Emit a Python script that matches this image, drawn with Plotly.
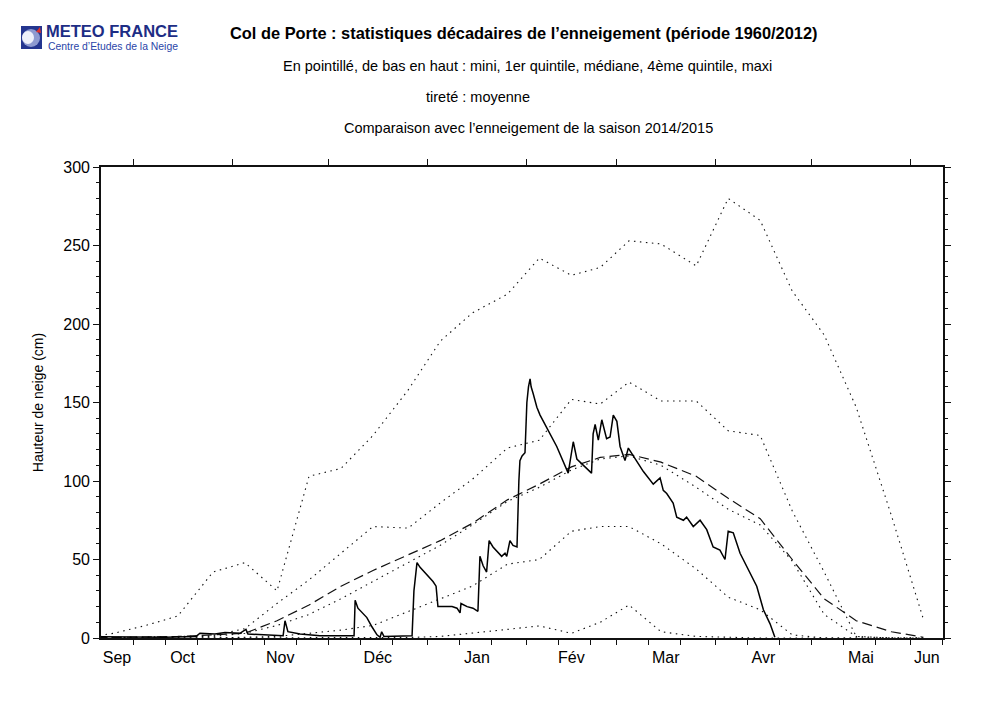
import plotly.graph_objects as go
import pandas as pd

# decadal statistics 1960/2012 (values at the centre of each decade, cm)
decade_dates = ["2014-09-15", "2014-09-25", "2014-10-05", "2014-10-15", "2014-10-26",
                "2014-11-05", "2014-11-15", "2014-11-25", "2014-12-05", "2014-12-15",
                "2014-12-26", "2015-01-05", "2015-01-15", "2015-01-26", "2015-02-05",
                "2015-02-15", "2015-02-24", "2015-03-05", "2015-03-15", "2015-03-26",
                "2015-04-05", "2015-04-15", "2015-04-25", "2015-05-05", "2015-05-15",
                "2015-05-26", "2015-06-05"]
maxi = [0, 3, 8, 14, 42, 48, 30, 103, 108, 129, 158, 189, 207, 219, 242, 231, 236,
        253, 251, 237, 280, 266, 221, 193, 147, 78, 12]
quint4 = [0, 0.5, 0.5, 1, 1.5, 6, 22, 37, 54, 71, 70, 86, 101, 121, 126, 152, 149,
          163, 151, 151, 132, 129, 81, 42, 1, 0, 0]
mediane = [0, 0.3, 0.3, 0.5, 1, 3, 8, 15, 25, 36, 48, 59, 72, 87, 96, 107, 114,
           116, 110, 96, 82, 72, 49, 15, 1, 0, 0]
quint1 = [0, 0, 0, 0, 0, 0.5, 1, 3, 5, 8, 17, 25, 33, 47, 50, 68, 71,
          71, 60, 44, 26, 18, 2, 0, 0, 0, 0]
mini = [0, 0, 0, 0, 0, 0, 0, 0, 0, 0, 0.3, 1, 3, 5.5, 7.7, 3, 10,
        21, 4, 1, 0.5, 0, 0, 0, 0, 0, 0]
moyenne = [0, 0.3, 0.5, 1, 2, 3, 11, 21, 33, 43, 53, 62, 73, 88, 98, 109, 115,
           117, 112, 103, 89, 76, 50, 25, 11, 4, 0.5]

# saison 2014/2015
obs_dates = ["2014-09-21 00:00", "2014-10-06 00:00", "2014-10-11 00:00", "2014-10-20 18:00",
             "2014-10-21 22:00", "2014-10-26 14:00", "2014-10-29 18:00", "2014-11-03 10:00",
             "2014-11-05 07:00", "2014-11-05 22:00", "2014-11-12 19:00", "2014-11-16 22:00",
             "2014-11-17 12:00", "2014-11-18 10:00", "2014-11-22 05:00", "2014-11-25 07:00",
             "2014-11-28 10:00", "2014-12-09 02:00", "2014-12-09 10:00", "2014-12-10 07:00",
             "2014-12-11 14:00", "2014-12-13 02:00", "2014-12-14 17:00", "2014-12-16 06:00",
             "2014-12-17 05:00", "2014-12-17 17:00", "2014-12-18 10:00", "2014-12-27 05:00",
             "2014-12-27 19:00", "2014-12-28 10:00", "2014-12-28 18:00", "2014-12-29 17:00",
             "2014-12-31 21:00", "2015-01-02 18:00", "2015-01-03 17:00", "2015-01-04 07:00",
             "2015-01-08 17:00", "2015-01-10 06:00", "2015-01-11 05:00", "2015-01-11 12:00",
             "2015-01-13 10:00", "2015-01-15 06:00", "2015-01-16 19:00", "2015-01-17 10:00",
             "2015-01-18 10:00", "2015-01-19 12:00", "2015-01-20 07:00", "2015-01-21 12:00",
             "2015-01-24 05:00", "2015-01-25 06:00", "2015-01-25 19:00", "2015-01-26 19:00",
             "2015-01-27 18:00", "2015-01-29 00:00", "2015-01-29 14:00", "2015-01-29 22:00",
             "2015-01-30 14:00", "2015-01-31 12:00", "2015-02-01 02:00", "2015-02-01 14:00",
             "2015-02-02 02:00", "2015-02-02 10:00", "2015-02-03 00:00", "2015-02-04 05:00",
             "2015-02-05 05:00", "2015-02-07 07:00", "2015-02-10 10:00", "2015-02-14 00:00",
             "2015-02-14 14:00", "2015-02-15 14:00", "2015-02-16 17:00", "2015-02-17 17:00",
             "2015-02-21 07:00", "2015-02-21 19:00", "2015-02-22 10:00", "2015-02-23 10:00",
             "2015-02-24 12:00", "2015-02-26 00:00", "2015-02-27 02:00", "2015-02-28 02:00",
             "2015-03-01 05:00", "2015-03-02 05:00", "2015-03-03 18:00", "2015-03-04 19:00",
             "2015-03-06 07:00", "2015-03-08 10:00", "2015-03-09 12:00", "2015-03-12 14:00",
             "2015-03-14 17:00", "2015-03-15 17:00", "2015-03-16 19:00", "2015-03-18 19:00",
             "2015-03-19 22:00", "2015-03-22 00:00", "2015-03-23 00:00", "2015-03-25 02:00",
             "2015-03-27 05:00", "2015-03-29 07:00", "2015-03-31 07:00", "2015-04-02 10:00",
             "2015-04-04 00:00", "2015-04-05 00:00", "2015-04-06 14:00", "2015-04-08 17:00",
             "2015-04-11 19:00", "2015-04-13 22:00", "2015-04-16 00:00", "2015-04-18 02:00",
             "2015-04-19 14:00"]
obs_depth = [0.8, 0.8, 0.5, 1.0,
             3.0, 2.5, 3.5, 3.0,
             5.5, 2.5, 2.0, 1.5,
             11.0, 4.0, 2.5, 2.0,
             1.5, 1.5, 24.0, 19.0,
             16.0, 13.0, 7.0, 2.0,
             0.5, 4.0, 1.0, 1.5,
             30.0, 44.0, 48.0, 45.0,
             40.0, 36.0, 33.0, 20.0,
             20.0, 19.0, 16.0, 22.0,
             20.0, 19.0, 17.0, 52.0,
             46.0, 42.0, 62.0, 58.0,
             52.0, 54.0, 52.0, 62.0,
             59.0, 58.0, 100.0, 113.0,
             116.0, 118.0, 150.0, 160.0,
             165.0, 160.0, 156.0, 147.0,
             142.0, 134.0, 122.0, 105.0,
             113.0, 125.0, 114.0, 112.0,
             105.0, 130.0, 136.0, 126.0,
             139.0, 127.0, 128.0, 142.0,
             138.0, 122.0, 113.0, 121.0,
             116.0, 109.0, 106.0, 98.0,
             102.0, 94.0, 92.0, 86.0,
             77.0, 75.0, 77.0, 71.0,
             75.0, 69.0, 58.0, 56.0,
             50.0, 68.0, 67.0, 54.0,
             41.0, 33.0, 18.0, 9.0,
             0.5]

month_names = ["Sep", "Oct", "Nov", "Déc", "Jan", "Fév", "Mar", "Avr", "Mai", "Jun"]

x_start = pd.Timestamp("2014-09-21")
x_end = pd.Timestamp("2015-06-11 03:00")
x_range = [x_start, x_end]

month_starts = pd.date_range("2014-09-01", periods=len(month_names), freq="MS")
decade_ticks = [m + pd.Timedelta(days=d) for m in month_starts for d in (0, 10, 20)]
decade_ticks = [t for t in decade_ticks if x_start < t < x_end]
month_ticks = [m for m in month_starts if x_start < m < x_end]
label_pos = []
for m in month_starts:
    a = max(m, x_start)
    b = min(m + pd.offsets.MonthBegin(1), x_end)
    label_pos.append(a + (b - a) / 2)

W, H = 1000, 706
ML, MR, MT, MB = 101, 57, 167, 68


def fx(px):
    return (px - ML) / (W - ML - MR)


def fy(py):
    return (H - MB - py) / (H - MT - MB)


FONT = "Liberation Sans, Arial, sans-serif"
dots = "1.5px,4.5px"

fig = go.Figure()
for vals in [mini, quint1, mediane, quint4, maxi]:
    fig.add_trace(go.Scatter(x=decade_dates, y=vals, mode="lines",
                             line=dict(color="#111111", width=1.1, dash=dots),
                             hoverinfo="skip"))
fig.add_trace(go.Scatter(x=decade_dates, y=moyenne, mode="lines",
                         line=dict(color="#111111", width=1.2, dash="10px,5px")))
fig.add_trace(go.Scatter(x=obs_dates, y=obs_depth, mode="lines",
                         line=dict(color="#000000", width=1.5)))
# empty traces so the frame axes (top / right / labels) get drawn
fig.add_trace(go.Scatter(x=[], y=[], xaxis="x2", yaxis="y2"))
fig.add_trace(go.Scatter(x=[], y=[], xaxis="x3", yaxis="y"))

axis_line = dict(showline=True, linecolor="#111111", linewidth=1.6,
                 showgrid=False, zeroline=False, tickcolor="#111111")

fig.update_layout(
    width=W, height=H,
    margin=dict(l=ML, r=MR, t=MT, b=MB),
    paper_bgcolor="white", plot_bgcolor="white",
    showlegend=False,
    font=dict(family=FONT, color="black"),
    xaxis=dict(type="date", range=x_range, tickmode="array", tickvals=decade_ticks,
               ticks="outside", ticklen=5, showticklabels=False, **axis_line),
    xaxis2=dict(type="date", range=x_range, overlaying="x", side="top", anchor="y2",
                tickmode="array", tickvals=month_ticks, ticks="outside", ticklen=6,
                showticklabels=False, **axis_line),
    xaxis3=dict(type="date", range=x_range, overlaying="x", side="bottom",
                tickmode="array", tickvals=label_pos, ticktext=month_names,
                ticks="", showline=False, showgrid=False, zeroline=False,
                ticklabelstandoff=8, tickfont=dict(size=16)),
    yaxis=dict(range=[0, 300], tickmode="linear", tick0=0, dtick=50,
               ticks="outside", ticklen=6, tickfont=dict(size=16),
               minor=dict(dtick=10, ticks="outside", ticklen=3, tickcolor="#111111"),
               title=dict(text="Hauteur de neige (cm)", font=dict(size=14), standoff=16),
               **axis_line),
    yaxis2=dict(range=[0, 300], overlaying="y", side="right", anchor="x2",
                tickmode="linear", tick0=0, dtick=50, ticks="outside", ticklen=6,
                showticklabels=False,
                minor=dict(dtick=10, ticks="outside", ticklen=3, tickcolor="#111111"),
                **axis_line),
)

annots = [
    ("<b>Col de Porte : statistiques décadaires de l’enneigement (période 1960/2012)</b>",
     524, 33, 16.4, "center"),
    ("En pointillé, de bas en haut : mini, 1er quintile, médiane, 4ème quintile, maxi",
     527, 66, 14.5, "center"),
    ("tireté : moyenne", 424, 97, 14.5, "left"),
    ("Comparaison avec l’enneigement de la saison 2014/2015", 528, 128, 14.5, "center"),
]
for text, px, py, size, anchor in annots:
    fig.add_annotation(text=text, x=fx(px), y=fy(py), xref="paper", yref="paper",
                       xanchor=anchor, yanchor="middle", showarrow=False,
                       font=dict(size=size, family=FONT, color="black"))

# logo
fig.add_shape(type="rect", xref="paper", yref="paper", x0=fx(21), x1=fx(42),
              y0=fy(49), y1=fy(26), fillcolor="#24358f", line=dict(width=0))
fig.add_shape(type="circle", xref="paper", yref="paper", x0=fx(22), x1=fx(40),
              y0=fy(47), y1=fy(29), fillcolor="#8e9ad0", line=dict(width=0))
fig.add_shape(type="circle", xref="paper", yref="paper", x0=fx(22), x1=fx(34),
              y0=fy(44), y1=fy(31), fillcolor="#eef0fa", line=dict(width=0))
fig.add_shape(type="path", xref="paper", yref="paper",
              path=f"M {fx(36)},{fy(32)} L {fx(40)},{fy(27)} L {fx(41)},{fy(33)} Z",
              fillcolor="#e0322a", line=dict(width=0))
fig.add_annotation(text="<b>METEO FRANCE</b>", x=fx(44), y=fy(31.5), xref="paper", yref="paper",
                   xanchor="left", yanchor="middle", showarrow=False,
                   font=dict(size=16.5, family=FONT, color="#1d2d85"))
fig.add_annotation(text="Centre d’Etudes de la Neige", x=fx(46), y=fy(46.5), xref="paper",
                   yref="paper", xanchor="left", yanchor="middle", showarrow=False,
                   font=dict(size=10.4, family=FONT, color="#2a45a8"))

fig.write_html("out.html", config={"displayModeBar": False},
               post_script="document.body.style.margin='0';")
